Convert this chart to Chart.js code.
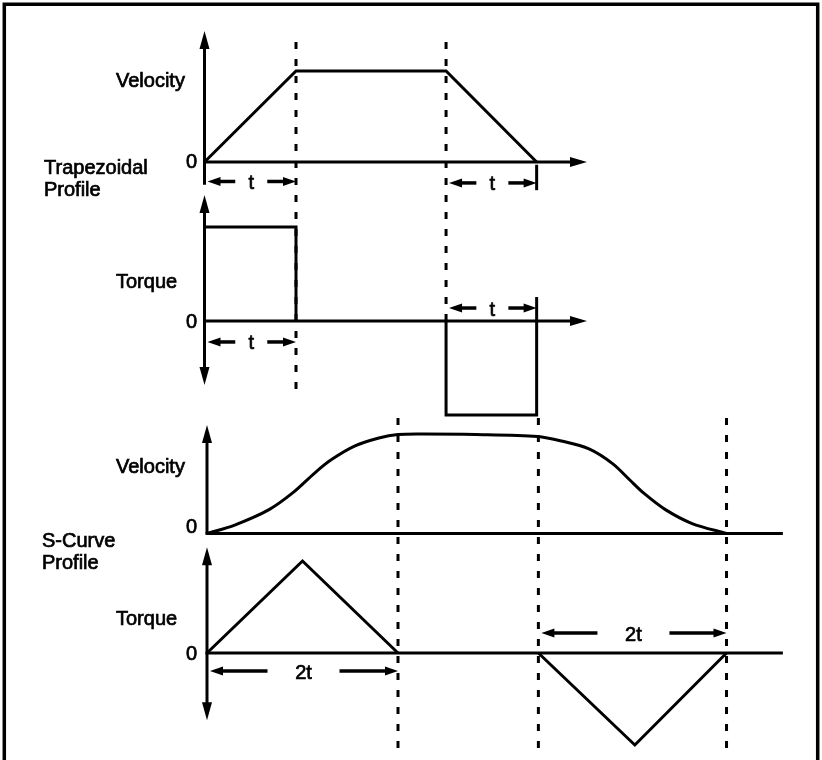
<!DOCTYPE html>
<html><head><meta charset="utf-8">
<script src="https://cdn.jsdelivr.net/npm/chart.js@4.4.1/dist/chart.umd.min.js"></script>
<style>html,body{margin:0;padding:0;background:#fff}#wrap{width:822px;height:760px;position:relative}canvas{display:block}</style>
</head><body><div id="wrap"><canvas id="c" width="822" height="760"></canvas></div>
<script>
// ---------------- DATA (time in units of t, values normalised to peak) ----------------
const trapVelTime = [0, 1, 2.64, 3.63];
const trapVelValue = [0, 1, 1, 0];
const trapTorqueAccTime = [0, 1, 1];
const trapTorqueAccValue = [1, 1, 0];
const trapTorqueDecTime = [2.64, 2.64, 3.63, 3.63];
const trapTorqueDecValue = [0, -1, -1, 0];

const sVelTime  = [0, 0.29, 0.65, 0.90, 1.13, 1.30, 1.55, 1.80, 2.00, 2.27, 2.81, 3.46, 3.71, 4.00, 4.25, 4.43, 4.58, 4.80, 5.08, 5.44];
const sVelValue = [0, 0.085, 0.24, 0.41, 0.61, 0.74, 0.88, 0.96, 0.995, 1.0, 0.995, 0.975, 0.93, 0.85, 0.70, 0.535, 0.40, 0.24, 0.10, 0];
const sTorqueAccTime = [0, 1, 2];
const sTorqueAccValue = [0, 1, 0];
const sTorqueDecTime = [3.47, 4.48, 5.44];
const sTorqueDecValue = [0, -1, 0];

const trapMarkers = [1, 2.64];          // dashed phase boundaries (trapezoidal)
const sMarkers = [2, 3.47, 5.44];       // dashed phase boundaries (S-curve)
const trapSpans = [[0, 1], [2.64, 3.63]];
const sSpans = [[0, 2], [3.47, 5.44]];
const trapSpanLabel = 't';
const sSpanLabel = '2t';
const panelTitles = ['Velocity', 'Torque', 'Velocity', 'Torque'];
const profileNames = [['Trapezoidal', 'Profile'], ['S-Curve', 'Profile']];
const zeroLabel = '0';

// ---------------- LAYOUT ----------------
const W = 822, H = 760;
const geo = {
  xT: {origin: 204.5, unit: 91.5},
  xS: {origin: 207, unit: 95.5},
  yTV: {zero: 162, unit: 91},
  yTT: {zero: 321, unit: 94},
  ySV: {zero: 533.5, unit: 99.5},
  yST: {zero: 653, unit: 92}
};
const FONT = '20px "Liberation Sans", Arial, Helvetica, sans-serif';

function xScale(k){const g=geo[k];return {type:'linear',display:false,bounds:'data',min:-g.origin/g.unit,max:(W-g.origin)/g.unit};}
function yScale(k){const g=geo[k];return {type:'linear',display:false,bounds:'data',min:-(H-g.zero)/g.unit,max:g.zero/g.unit};}
function pts(xs, ys){return xs.map((x,i)=>({x:x,y:ys[i]}));}
function ds(xs, ys, xk, yk, extra){
  return Object.assign({data:pts(xs,ys), xAxisID:xk, yAxisID:yk, showLine:true, borderColor:'#000',
    borderWidth:3, pointRadius:0, fill:false, tension:0, borderJoinStyle:'miter', borderCapStyle:'butt'}, extra||{});
}

// axes per panel (values in panel units)
const axesDefs = [
  {xk:'xT', yk:'yTV', top:1.44, bottom:-0.25, downArrow:false, xEnd:4.18, xArrow:true},
  {xk:'xT', yk:'yTT', top:1.34, bottom:-0.68, downArrow:true,  xEnd:4.18, xArrow:true},
  {xk:'xS', yk:'ySV', top:1.09, bottom:0,     downArrow:false, xEnd:6.03, xArrow:false},
  {xk:'xS', yk:'yST', top:1.15, bottom:-0.73, downArrow:true,  xEnd:6.03, xArrow:false}
];
const markerDefs = [
  {xk:'xT', t:trapMarkers[0], topK:'yTV', top:1.32, botK:'yTT', bot:-0.766},
  {xk:'xT', t:trapMarkers[1], topK:'yTV', top:1.32, botK:'yTT', bot:0},
  {xk:'xS', t:sMarkers[0], topK:'ySV', top:1.16, botK:'yST', bot:-1.07},
  {xk:'xS', t:sMarkers[1], topK:'ySV', top:1.16, botK:'yST', bot:-1.07},
  {xk:'xS', t:sMarkers[2], topK:'ySV', top:1.16, botK:'yST', bot:-1.07}
];
const dimDefs = [
  {xk:'xT', yk:'yTV', span:trapSpans[0], at:-0.214, label:trapSpanLabel, gap:15},
  {xk:'xT', yk:'yTV', span:trapSpans[1], at:-0.23,  label:trapSpanLabel, gap:15, tick:[-0.03,-0.31]},
  {xk:'xT', yk:'yTT', span:trapSpans[0], at:-0.223, label:trapSpanLabel, gap:15},
  {xk:'xT', yk:'yTT', span:trapSpans[1], at:0.138,  label:trapSpanLabel, gap:15, tick:[0.255,0]},
  {xk:'xS', yk:'yST', span:sSpans[0], at:-0.196, label:sSpanLabel, gap:35},
  {xk:'xS', yk:'yST', span:sSpans[1], at:0.217,  label:sSpanLabel, gap:35}
];
const textDefs = [
  {text:panelTitles[0], x:116, y:86.5},
  {text:profileNames[0][0], x:44, y:173.5},
  {text:profileNames[0][1], x:44, y:195.5},
  {text:panelTitles[1], x:116, y:288},
  {text:panelTitles[2], x:116, y:473},
  {text:profileNames[1][0], x:42, y:547},
  {text:profileNames[1][1], x:42, y:569},
  {text:panelTitles[3], x:116, y:625}
];
const zeroDefs = [{yk:'yTV', dy:6}, {yk:'yTT', dy:7}, {yk:'ySV', dy:-0.5}, {yk:'yST', dy:7}];

function arrowHead(ctx, tx, ty, dx, dy, len, hw){
  const bx = tx - dx*len, by = ty - dy*len;
  ctx.beginPath();
  ctx.moveTo(tx, ty);
  ctx.lineTo(bx - dy*hw, by + dx*hw);
  ctx.lineTo(bx + dy*hw, by - dx*hw);
  ctx.closePath();
  ctx.fill();
}

const diagramPlugin = {
  id:'diagram',
  beforeDatasetsDraw(chart){
    const ctx = chart.ctx, s = chart.scales;
    ctx.save();
    ctx.fillStyle = '#000'; ctx.strokeStyle = '#000';
    // frame
    ctx.lineWidth = 3.5; ctx.lineCap = 'butt';
    ctx.beginPath(); ctx.moveTo(4.3, H+5); ctx.lineTo(4.3, 4.3); ctx.lineTo(817.7, 4.3); ctx.lineTo(817.7, H+5); ctx.stroke();
    // axes
    ctx.lineWidth = 3;
    for (const a of axesDefs){
      const X = s[a.xk], Y = s[a.yk];
      const x0 = X.getPixelForValue(0), y0 = Y.getPixelForValue(0);
      const yt = Y.getPixelForValue(a.top), yb = Y.getPixelForValue(a.bottom);
      const xe = X.getPixelForValue(a.xEnd);
      ctx.beginPath(); ctx.moveTo(x0, yt + 12); ctx.lineTo(x0, a.downArrow ? yb - 12 : yb); ctx.stroke();
      arrowHead(ctx, x0, yt, 0, -1, 18, 5);
      if (a.downArrow) arrowHead(ctx, x0, yb, 0, 1, 18, 5);
      ctx.beginPath(); ctx.moveTo(x0 - 1.5, y0); ctx.lineTo(a.xArrow ? xe - 12 : xe, y0); ctx.stroke();
      if (a.xArrow) arrowHead(ctx, xe, y0, 1, 0, 17, 5);
    }
    // dashed phase markers
    ctx.lineWidth = 3; ctx.setLineDash([7, 10]);
    for (const m of markerDefs){
      const x = s[m.xk].getPixelForValue(m.t);
      ctx.beginPath(); ctx.moveTo(x, s[m.topK].getPixelForValue(m.top)); ctx.lineTo(x, s[m.botK].getPixelForValue(m.bot)); ctx.stroke();
    }
    ctx.setLineDash([]);
    // dimension arrows
    ctx.font = FONT; ctx.textAlign = 'center'; ctx.textBaseline = 'middle';
    for (const d of dimDefs){
      const X = s[d.xk], Y = s[d.yk];
      const xa = X.getPixelForValue(d.span[0]) + 3, xb = X.getPixelForValue(d.span[1]);
      const y = Y.getPixelForValue(d.at), xc = (X.getPixelForValue(d.span[0]) + xb)/2;
      ctx.lineWidth = 3.5;
      ctx.beginPath(); ctx.moveTo(xa + 8, y); ctx.lineTo(xc - d.gap, y); ctx.stroke();
      ctx.beginPath(); ctx.moveTo(xc + d.gap + 2, y); ctx.lineTo(xb - 8, y); ctx.stroke();
      arrowHead(ctx, xa, y, -1, 0, 13, 4.5);
      arrowHead(ctx, xb, y, 1, 0, 13, 4.5);
      ctx.lineWidth = 3;
      if (d.tick){
        ctx.beginPath(); ctx.moveTo(xb, Y.getPixelForValue(d.tick[0])); ctx.lineTo(xb, Y.getPixelForValue(d.tick[1])); ctx.stroke();
      }
      ctx.lineWidth = 0.7;
      ctx.fillText(d.label, xc + 1, y + 2);
      ctx.strokeText(d.label, xc + 1, y + 2);
    }
    ctx.restore();
  },
  afterDatasetsDraw(chart){
    const ctx = chart.ctx, s = chart.scales;
    ctx.save();
    ctx.fillStyle = '#000'; ctx.strokeStyle = '#000'; ctx.lineWidth = 0.7;
    ctx.font = FONT; ctx.textAlign = 'left'; ctx.textBaseline = 'alphabetic';
    for (const t of textDefs){ ctx.fillText(t.text, t.x, t.y); ctx.strokeText(t.text, t.x, t.y); }
    ctx.textAlign = 'right';
    for (const z of zeroDefs){
      const y = s[z.yk].getPixelForValue(0) + z.dy;
      ctx.fillText(zeroLabel, 197, y); ctx.strokeText(zeroLabel, 197, y);
    }
    ctx.restore();
  }
};

new Chart(document.getElementById('c'), {
  type:'scatter',
  data:{datasets:[
    ds(trapVelTime, trapVelValue, 'xT', 'yTV'),
    ds(trapTorqueAccTime, trapTorqueAccValue, 'xT', 'yTT'),
    ds(trapTorqueDecTime, trapTorqueDecValue, 'xT', 'yTT'),
    ds(sVelTime, sVelValue, 'xS', 'ySV', {tension:0.3, borderJoinStyle:'round'}),
    ds(sTorqueAccTime, sTorqueAccValue, 'xS', 'yST'),
    ds(sTorqueDecTime, sTorqueDecValue, 'xS', 'yST')
  ]},
  options:{
    responsive:false, animation:false, devicePixelRatio:1,
    layout:{padding:0},
    plugins:{legend:{display:false}, tooltip:{enabled:false}, title:{display:false}},
    events:[],
    scales:{xT:xScale('xT'), xS:xScale('xS'), yTV:yScale('yTV'), yTT:yScale('yTT'), ySV:yScale('ySV'), yST:yScale('yST')}
  },
  plugins:[diagramPlugin]
});
</script>
</body></html>
